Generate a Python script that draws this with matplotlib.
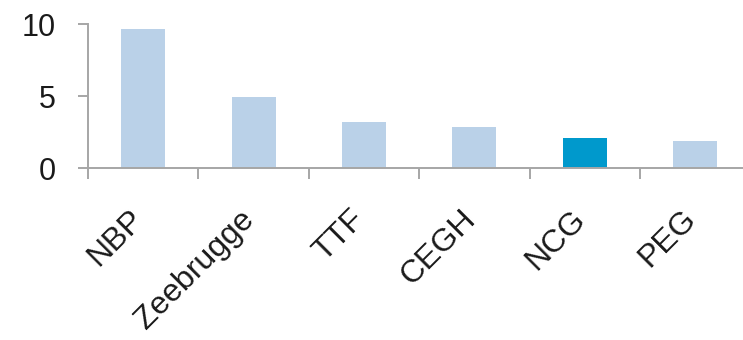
import matplotlib
matplotlib.use("Agg")
import matplotlib.pyplot as plt
import matplotlib.transforms as mtransforms
import numpy as np

# Hub names and their values
hubs = ["NBP", "Zeebrugge", "TTF", "CEGH", "NCG", "PEG"]
values = [9.65, 4.95, 3.2, 2.85, 2.1, 1.9]
highlight = "NCG"
y_ticks = [0, 5, 10]

plt.rcParams["font.family"] = ["Liberation Sans", "DejaVu Sans"]

base_color = "#BAD1E8"
accent_color = "#0099CC"
axis_color = "#A6A6A6"
text_color = "#1A1A1A"

fig = plt.figure(figsize=(7.43, 3.40), dpi=100)
ax = fig.add_axes([88 / 743, 1 - 168 / 340, (743 - 88) / 743, (168 - 24) / 340])

x = np.arange(len(hubs))
colors = [accent_color if h == highlight else base_color for h in hubs]
ax.bar(x, values, width=0.4, color=colors, zorder=2)

cat_w = (640 - 88) / 5
ax.set_xlim(-0.5, (743 - 88) / cat_w - 0.5)
ax.set_ylim(0, 10)

for s in ["top", "right"]:
    ax.spines[s].set_visible(False)
for s in ["left", "bottom"]:
    ax.spines[s].set_color(axis_color)
    ax.spines[s].set_linewidth(1.4)

ax.set_yticks(y_ticks)
ax.set_yticklabels([str(t) for t in y_ticks], fontsize=22, color=text_color)
ax.tick_params(axis="y", length=7.2, width=1.4, color=axis_color, pad=16)

# Category labels at bar centres, tick marks at category boundaries
ax.set_xticks(x)
ax.set_xticklabels(hubs, fontsize=23, color=text_color, rotation=45,
                   ha="right", va="top")
ax.tick_params(axis="x", which="major", length=0, pad=26)
ax.set_xticks(np.arange(len(hubs)) - 0.5, minor=True)
ax.tick_params(axis="x", which="minor", length=8, width=1.4, color=axis_color)

# nudge the rotated labels so their ends sit under the bar centres
shift = mtransforms.ScaledTranslation(7 / 100, 0, fig.dpi_scale_trans)
for lbl in ax.get_xticklabels():
    lbl.set_transform(lbl.get_transform() + shift)

fig.savefig("out.png", dpi=100)
